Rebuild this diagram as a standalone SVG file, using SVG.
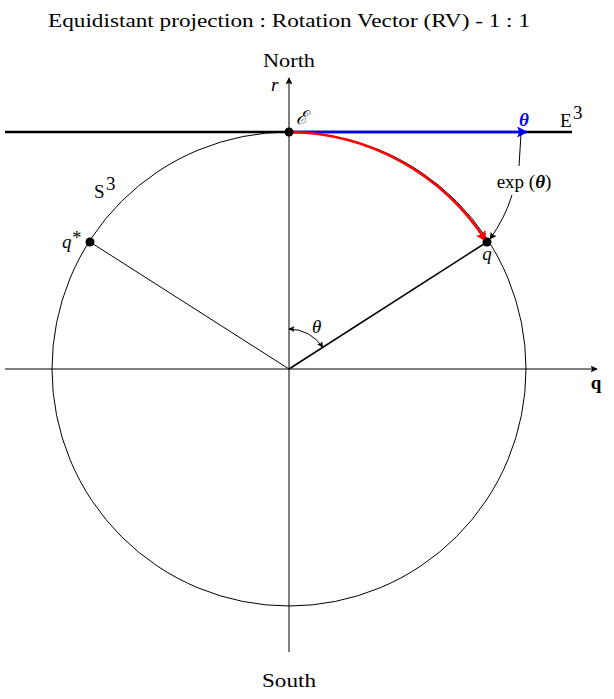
<svg xmlns="http://www.w3.org/2000/svg" width="614" height="699" viewBox="0 0 614 699">
<style>
text{font-family:"Liberation Serif","DejaVu Serif",serif;font-size:19px;fill:#000}
.it{font-style:italic}
.thin{stroke:#000;stroke-width:1;fill:none}
</style>
<defs>
<marker id="ak" viewBox="0 0 10 10" refX="9" refY="5" markerWidth="7" markerHeight="7" markerUnits="userSpaceOnUse" orient="auto"><path d="M0,0 L10,5 L0,10 L2,5 Z" fill="#000"/></marker>
<marker id="aks" viewBox="0 0 10 10" refX="9" refY="5" markerWidth="6" markerHeight="6" markerUnits="userSpaceOnUse" orient="auto-start-reverse"><path d="M0,0 L10,5 L0,10 L2,5 Z" fill="#000"/></marker>
<marker id="ab" viewBox="0 0 10 10" refX="9" refY="5" markerWidth="11" markerHeight="11" markerUnits="userSpaceOnUse" orient="auto"><path d="M0,0 L10,5 L0,10 L2,5 Z" fill="#0000ff"/></marker>
<marker id="ar" viewBox="0 0 10 10" refX="9" refY="5" markerWidth="11" markerHeight="11" markerUnits="userSpaceOnUse" orient="auto"><path d="M0,0 L10,5 L0,10 L2,5 Z" fill="#ff0000"/></marker>
</defs>
<text x="289" y="27" text-anchor="middle" textLength="482" lengthAdjust="spacingAndGlyphs">Equidistant projection : Rotation Vector (RV) - 1 : 1</text>
<g id="sphere"><circle cx="289" cy="369" r="237" class="thin"/></g>
<g id="connectors">
<line x1="5" y1="369" x2="597" y2="369" class="thin" marker-end="url(#ak)"/>
<line x1="289" y1="652" x2="289" y2="78" class="thin" marker-end="url(#ak)"/>
<line x1="5" y1="132" x2="572" y2="132" stroke="#000" stroke-width="2.5"/>
<line x1="289" y1="369" x2="487" y2="242" stroke="#000" stroke-width="1.5"/>
<line x1="289" y1="369" x2="90" y2="242" class="thin"/>
<line x1="289" y1="132" x2="527" y2="132" stroke="#0000ff" stroke-width="2.5" marker-end="url(#ab)"/>
<path d="M289,132 A237,237 0 0 1 486,241" fill="none" stroke="#ff0000" stroke-width="2.5" marker-end="url(#ar)"/>
<path d="M289,329 A40,40 0 0 1 322.6,347.2" class="thin" marker-start="url(#aks)" marker-end="url(#aks)"/>
<path d="M521,134 Q520,150 519,166" class="thin"/>
<path d="M512,195 Q505,218 490,239" class="thin" marker-end="url(#ak)"/>
</g>
<g id="E"><circle cx="289" cy="132" r="4.5" fill="#000"/><text x="296" y="124" class="it" font-size="19">ℰ</text></g>
<g id="q"><circle cx="487" cy="242" r="4.5" fill="#000"/><text x="487" y="260" class="it" text-anchor="middle">q</text></g>
<g id="qstar"><circle cx="90" cy="242" r="4.5" fill="#000"/><text x="62" y="248" class="it">q</text><text x="72" y="244" font-size="14">*</text></g>
<g id="labels">
<text x="289" y="67" text-anchor="middle" textLength="52" lengthAdjust="spacingAndGlyphs">North</text>
<text x="289" y="687" text-anchor="middle" textLength="54" lengthAdjust="spacingAndGlyphs">South</text>
<text x="271" y="91" class="it">r</text>
<text x="524" y="126" text-anchor="middle" font-weight="bold" class="it" style="fill:#0000ff">θ</text>
<text x="560" y="127">E</text><text x="573" y="119" font-size="13">3</text>
<text x="94" y="198">S</text><text x="106" y="190" font-size="13">3</text>
<text x="312" y="333" class="it">θ</text>
<text x="596" y="389" text-anchor="middle" font-weight="bold">q</text>
<text x="524" y="188" text-anchor="middle" font-size="14">exp (<tspan font-weight="bold" font-style="italic">θ</tspan>)</text>
</g>
</svg>
